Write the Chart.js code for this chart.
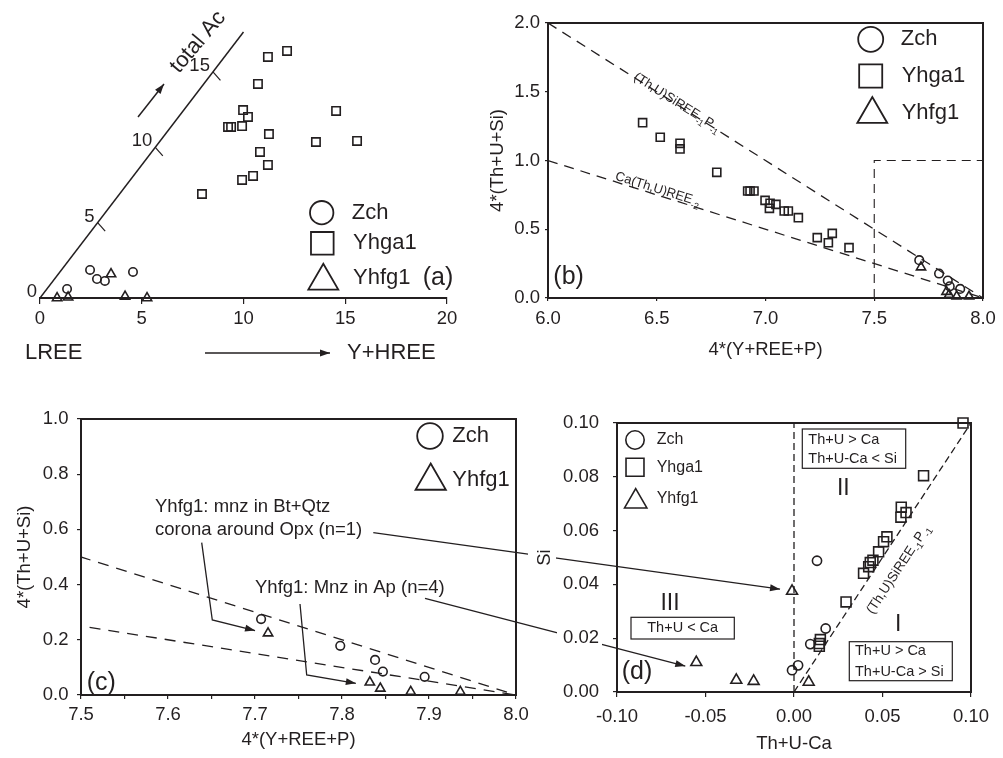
<!DOCTYPE html>
<html><head><meta charset="utf-8">
<script src="https://cdn.jsdelivr.net/npm/chart.js@4.4.1/dist/chart.umd.min.js"></script>
<style>
html,body{margin:0;padding:0;background:#fff;}
#wrap{position:relative;width:1003px;height:758px;overflow:hidden;background:#fff;}
canvas{position:absolute;left:0;top:0;}
</style></head><body>
<div id="wrap">
<canvas id="ov" width="1003" height="758"></canvas>
<canvas id="ca" width="1003" height="758"></canvas>
<canvas id="cb" width="1003" height="758"></canvas>
<canvas id="cc" width="1003" height="758"></canvas>
<canvas id="cd" width="1003" height="758"></canvas>
</div>
<script>
// ---------- DATA ----------
// panel (a): x = position on LREE -> Y+HREE axis, y = total Ac height
const acAxisLine = [[0,0],[10,17.65]];
const acTicks = [0,5,10,15];
const aTicksX = [0,5,10,15,20];
const aZch = [[2.46,1.86],[2.80,1.26],[3.19,1.13],[4.57,1.73],[1.33,0.60]];
const aYhga1 = [[12.14,16.39],[11.20,15.99],[10.71,14.20],[9.98,12.47],[10.22,12.01],[9.93,11.41],[9.24,11.35],[9.39,11.35],[14.55,12.41],[11.25,10.88],[13.56,10.35],[15.58,10.42],[10.81,9.69],[11.20,8.83],[10.47,8.10],[9.93,7.83],[7.96,6.90]];
const aYhfg1 = [[3.49,1.59],[0.84,0.0],[1.38,0.05],[4.18,0.1],[5.26,0.0]];
// panels (b) and (c): 4*(Y+REE+P) vs 4*(Th+U+Si)
const substLine1 = [[6,2],[8,0]];   // (Th,U)SiREE-1P-1
const substLine2 = [[6,1],[8,0]];   // Ca(Th,U)REE-2
const zoomBox = [[7.5,0],[7.5,1],[8,1]];
const monYhga1 = [[6.435,1.275],[6.516,1.169],[6.607,1.125],[6.607,1.084],[6.776,0.914],[6.918,0.778],[6.929,0.778],[6.947,0.778],[6.998,0.710],[7.021,0.689],[7.018,0.652],[7.048,0.681],[7.086,0.633],[7.105,0.633],[7.151,0.584],[7.238,0.439],[7.289,0.402],[7.307,0.470],[7.384,0.366]];
const monZch = [[7.707,0.275],[7.798,0.178],[7.838,0.127],[7.847,0.085],[7.895,0.066]];
const monYhfg1 = [[7.715,0.224],[7.832,0.046],[7.844,0.024],[7.879,0.012],[7.936,0.012]];
// panel (d): Th+U-Ca vs Si
const dVert = [[0,0],[0,0.1]];
const dDiag = [[0,0],[0.1,0.1]];
const dZch = [[0.0130,0.0488],[0.0179,0.0236],[0.0092,0.0178],[0.0023,0.0099],[-0.0011,0.0081]];
const dYhga1 = [[0.0955,0.100],[0.0732,0.0804],[0.0606,0.0687],[0.0633,0.0667],[0.0604,0.0650],[0.0525,0.0577],[0.0506,0.0559],[0.0478,0.0521],[0.0446,0.0490],[0.0431,0.0481],[0.0422,0.0466],[0.0393,0.0441],[0.0294,0.0335],[0.0149,0.0195],[0.0143,0.0180],[0.0143,0.0170]];
const dYhfg1 = [[-0.0011,0.0375],[-0.0552,0.0110],[-0.0326,0.0044],[-0.0228,0.0040],[0.0083,0.0037]];

// ---------- HELPERS ----------
const W=1003,H=758;
const INK='#231f20';
const FONT='"Liberation Sans", Arial, Helvetica, sans-serif';
Chart.defaults.font.family = FONT;
Chart.defaults.color = INK;

const pts = arr => arr.map(p=>({x:p[0],y:p[1]}));
function scat(arr, style, r, lw){
  return {data:pts(arr), pointStyle:style, pointRadius:r, pointBorderWidth:lw||1.6,
    pointBorderColor:INK, pointBackgroundColor:'rgba(0,0,0,0)', borderColor:INK,
    backgroundColor:'rgba(0,0,0,0)', showLine:false, clip:false};
}
function line(arr, dash, lw){
  return {data:pts(arr), showLine:true, pointRadius:0, borderColor:INK, borderWidth:lw||1.3,
    borderDash:dash||[], fill:false, tension:0};
}
function text(ctx,s,x,y,size,align,base,rot){
  ctx.save(); ctx.translate(x,y); if(rot) ctx.rotate(rot);
  ctx.font=size+'px '+FONT; ctx.fillStyle=INK; ctx.textAlign=align||'left'; ctx.textBaseline=base||'middle';
  ctx.fillText(s,0,0); ctx.restore();
}
function rich(ctx,parts,x,y,rot,size,dy){
  ctx.save(); ctx.translate(x,y); ctx.rotate(rot); ctx.fillStyle=INK; ctx.textBaseline='alphabetic'; ctx.textAlign='left';
  let tot=0;
  parts.forEach(p=>{ctx.font=(p[1]?size*0.7:size)+'px '+FONT; tot+=ctx.measureText(p[0]).width;});
  let cx=-tot/2;
  parts.forEach(p=>{const s=p[1]?size*0.7:size; ctx.font=s+'px '+FONT; ctx.fillText(p[0],cx,dy+(p[1]?size*0.3:0)); cx+=ctx.measureText(p[0]).width;});
  ctx.restore();
}
function marker(ctx,style,x,y,r,lw){
  ctx.save(); ctx.strokeStyle=INK; ctx.lineWidth=lw||1.6; ctx.beginPath();
  if(style==='circle'){ctx.arc(x,y,r,0,2*Math.PI);}
  else if(style==='rect'){const s=r/Math.SQRT2; ctx.rect(x-s,y-s,2*s,2*s);}
  else {const a=2*Math.PI/3; ctx.moveTo(x,y-r); ctx.lineTo(x+r*Math.sin(a),y-r*Math.cos(a)); ctx.lineTo(x+r*Math.sin(2*a),y-r*Math.cos(2*a)); ctx.closePath();}
  ctx.stroke(); ctx.restore();
}
function arrowLine(ctx,P,lw){
  ctx.save(); ctx.strokeStyle=INK; ctx.fillStyle=INK; ctx.lineWidth=lw||1.3;
  ctx.beginPath(); ctx.moveTo(P[0][0],P[0][1]); for(let i=1;i<P.length;i++) ctx.lineTo(P[i][0],P[i][1]); ctx.stroke();
  const [x1,y1]=P[P.length-2],[x2,y2]=P[P.length-1];
  const a=Math.atan2(y2-y1,x2-x1),L=10,w=3.5;
  ctx.beginPath(); ctx.moveTo(x2,y2);
  ctx.lineTo(x2-L*Math.cos(a)+w*Math.sin(a),y2-L*Math.sin(a)-w*Math.cos(a));
  ctx.lineTo(x2-L*Math.cos(a)-w*Math.sin(a),y2-L*Math.sin(a)+w*Math.cos(a));
  ctx.closePath(); ctx.fill(); ctx.restore();
}
function box(ctx,x,y,w,h){ctx.save(); ctx.strokeStyle=INK; ctx.lineWidth=1.2; ctx.strokeRect(x,y,w,h); ctx.restore();}
const framePlugin={id:'frame',beforeDatasetsDraw(ch){const a=ch.chartArea,ctx=ch.ctx; ctx.save(); ctx.strokeStyle=INK; ctx.lineWidth=2; ctx.strokeRect(a.left,a.top,a.right-a.left,a.bottom-a.top); ctx.restore();}};

function axis(min,max,step,title,tickLen,pad,fmt,extra){
  return Object.assign({
    type:'linear', min:min, max:max,
    ticks:{stepSize:step, autoSkip:false, maxRotation:0, minRotation:0, padding:pad, color:INK, font:{size:18.5,family:FONT}, callback:fmt},
    grid:{display:true, drawOnChartArea:false, drawTicks:true, tickLength:tickLen, color:INK, lineWidth:1.2},
    border:{display:false},
    title: title?{display:true,text:title,color:INK,font:{size:18.5,family:FONT},padding:{top:0,bottom:0}}:{display:false}
  }, extra||{});
}
function mkChart(id,area,yW,xH,datasets,xs,ys,plugins){
  xs.position='bottom'; ys.position='left';
  xs.afterFit=function(s){s.height=xH; s.paddingLeft=0; s.paddingRight=0;};
  ys.afterFit=function(s){s.width=yW; s.paddingTop=0; s.paddingBottom=0;};
  return new Chart(document.getElementById(id),{
    type:'scatter', data:{datasets:datasets},
    options:{responsive:false, maintainAspectRatio:false, animation:false, devicePixelRatio:1, events:[],
      layout:{padding:{left:area.left-yW, top:area.top, right:W-area.right, bottom:H-area.bottom-xH}},
      plugins:{legend:{display:false}, tooltip:{enabled:false}},
      scales:{x:xs, y:ys}},
    plugins:plugins
  });
}
const f1 = v=>v.toFixed(1), f2 = v=>v.toFixed(2);

// ---------- PANEL (a) ----------
const aPlugin={id:'pa',afterDraw(ch){
  const ctx=ch.ctx,X=ch.scales.x,Y=ch.scales.y,top=acAxisLine[1];
  ctx.save(); ctx.strokeStyle=INK; ctx.lineWidth=1.2;
  acTicks.forEach(t=>{
    const px=X.getPixelForValue(t*top[0]/top[1]),py=Y.getPixelForValue(t);
    if(t>0){ctx.beginPath(); ctx.moveTo(px,py); ctx.lineTo(px+7.5,py+8.5); ctx.stroke();}
    text(ctx,String(t),px-3,py-6,18.5,'right','middle');
  });
  ctx.restore();
  text(ctx,'total Ac',198,42,22,'center','middle',-50*Math.PI/180);
  arrowLine(ctx,[[138,117],[164,84]],1.5);
  text(ctx,'LREE',25,353,22,'left','middle');
  arrowLine(ctx,[[205,353],[330,353]],1.5);
  text(ctx,'Y+HREE',347,353,22,'left','middle');
  marker(ctx,'circle',321.7,212.7,11.7,1.8); text(ctx,'Zch',351.7,212.7,22);
  marker(ctx,'rect',322.3,243.3,16,1.8); text(ctx,'Yhga1',353,243.3,22);
  marker(ctx,'triangle',323.3,281,17.3,1.8); text(ctx,'Yhfg1',353,278,22);
  text(ctx,'(a)',422.7,278,25);
}};
const chA = mkChart('ca',{left:40,top:26.7,right:447,bottom:298},0,32,
  [line(acAxisLine,[],1.5), scat(aZch,'circle',4.2), scat(aYhga1,'rect',5.9), scat(aYhfg1,'triangle',5.4)],
  axis(0,20,5,null,6,4,v=>String(v),{border:{display:true,color:INK,width:2}}),
  {type:'linear',display:false,min:0,max:18},[aPlugin]);

// ---------- PANEL (b) ----------
const bPlugin={id:'pb',afterDraw(ch){
  const ctx=ch.ctx,X=ch.scales.x,Y=ch.scales.y;
  const ang=l=>Math.atan2(Y.getPixelForValue(l[1][1])-Y.getPixelForValue(l[0][1]),X.getPixelForValue(l[1][0])-X.getPixelForValue(l[0][0]));
  const onLine=(l,x)=>{const y=l[0][1]+(l[1][1]-l[0][1])*(x-l[0][0])/(l[1][0]-l[0][0]);return [X.getPixelForValue(x),Y.getPixelForValue(y)];};
  let p=onLine(substLine1,6.59); rich(ctx,[['(Th,U)SiREE'],['-1',1],['P'],['-1',1]],p[0],p[1],ang(substLine1),13,2);
  p=onLine(substLine2,6.497); rich(ctx,[['Ca(Th,U)REE'],['-2',1]],p[0],p[1],ang(substLine2),13,-2);
  marker(ctx,'circle',870.7,39.3,12.5,1.8); text(ctx,'Zch',900.7,39.3,22);
  marker(ctx,'rect',870.7,76,16.3,1.8); text(ctx,'Yhga1',901.7,76,22);
  marker(ctx,'triangle',872.3,114.3,17.3,1.8); text(ctx,'Yhfg1',901.7,113,22);
  text(ctx,'(b)',553.3,276.7,25);
}};
const chB = mkChart('cb',{left:548,top:23,right:983,bottom:298},61,63,
  [line(substLine1,[10,7]), line(substLine2,[10,7]), line(zoomBox,[9,6],1.1),
   scat(monZch,'circle',4.3), scat(monYhga1,'rect',5.7), scat(monYhfg1,'triangle',5.3)],
  axis(6,8,0.5,'4*(Y+REE+P)',3,7,f1), axis(0,2,0.5,'4*(Th+U+Si)',3,5,f1), [framePlugin,bPlugin]);

// ---------- PANEL (c) ----------
const cPlugin={id:'pc',afterDraw(ch){
  const ctx=ch.ctx;
  text(ctx,'Yhfg1: mnz in Bt+Qtz',155,506.7,18.5);
  text(ctx,'corona around Opx (n=1)',155,530,18.5);
  text(ctx,'Yhfg1: Mnz in Ap (n=4)',255,588.3,18.5);
  marker(ctx,'circle',430,436,12.8,1.8); text(ctx,'Zch',452.3,436,22);
  marker(ctx,'triangle',430.7,481,17.5,1.8); text(ctx,'Yhfg1',452.3,480,22);
  text(ctx,'(c)',86.7,683,25);
}};
const chC = mkChart('cc',{left:81,top:419,right:516,bottom:695},67,56,
  [line(substLine1,[11,8]), line(substLine2,[11,8]), scat(monZch,'circle',4.3), scat(monYhfg1,'triangle',5.4)],
  axis(7.5,8,0.05,'4*(Y+REE+P)',4,5,v=>Math.abs(v*10-Math.round(v*10))<1e-6?v.toFixed(1):''),
  axis(0,1,0.2,'4*(Th+U+Si)',4,8.5,f1), [framePlugin,cPlugin]);

// ---------- PANEL (d) ----------
const dPlugin={id:'pd',
 beforeDraw(ch){const ctx=ch.ctx; ctx.save(); ctx.fillStyle='#fff'; ctx.fillRect(528,544,28,26); ctx.fillRect(557,627,45,21); ctx.restore();},
 afterDraw(ch){
  const ctx=ch.ctx,X=ch.scales.x,Y=ch.scales.y;
  box(ctx,802.3,429,103.4,39.3); text(ctx,'Th+U > Ca',808.3,439.6,14.5); text(ctx,'Th+U-Ca < Si',808.3,459.3,14.5);
  text(ctx,'II',843.3,488.3,23,'center');
  text(ctx,'III',670,603.3,23,'center');
  box(ctx,631,617.3,103.3,21.7); text(ctx,'Th+U < Ca',682.7,628.3,14.5,'center');
  text(ctx,'I',898.3,625,23,'center');
  box(ctx,849.3,641.7,103,39); text(ctx,'Th+U > Ca',855,651,14.5); text(ctx,'Th+U-Ca > Si',855,671.5,14.5);
  const a=Math.atan2(Y.getPixelForValue(dDiag[1][1])-Y.getPixelForValue(dDiag[0][1]),X.getPixelForValue(dDiag[1][0])-X.getPixelForValue(dDiag[0][0]));
  rich(ctx,[['(Th,U)SiREE'],['-1',1],['P'],['-1',1]],X.getPixelForValue(0.0496),Y.getPixelForValue(0.0496),a,13.5,23.5);
  marker(ctx,'circle',635,440,9.2,1.6); text(ctx,'Zch',656.7,440,16);
  marker(ctx,'rect',635,467.3,12.7,1.6); text(ctx,'Yhga1',656.7,467.3,16);
  marker(ctx,'triangle',635.7,501.5,12.9,1.6); text(ctx,'Yhfg1',656.7,499,16);
  text(ctx,'(d)',621.7,671.7,25);
 }};
const chD = mkChart('cd',{left:617,top:423,right:971,bottom:692},83,63,
  [line(dVert,[7,4]), line(dDiag,[7,4]), scat(dZch,'circle',4.6), scat(dYhga1,'rect',7), scat(dYhfg1,'triangle',6.3)],
  axis(-0.1,0.1,0.05,'Th+U-Ca',5,9,f2), axis(0,0.1,0.02,'Si',4,14,f2), [framePlugin,dPlugin]);

// ---------- CROSS-PANEL ANNOTATIONS ----------
(function(){
  const ctx=document.getElementById('ov').getContext('2d');
  const px=(ch,p)=>[ch.scales.x.getPixelForValue(p[0]),ch.scales.y.getPixelForValue(p[1])];
  const off=(p,dx,dy)=>[p[0]+dx,p[1]+dy];
  arrowLine(ctx,[[201.7,542.7],[212.3,620],off(px(chC,monYhfg1[0]),-13,-2.6)]);
  arrowLine(ctx,[[300,604],[306.7,675],off(px(chC,monYhfg1[1]),-14,1)]);
  arrowLine(ctx,[[373.3,532.7],off(px(chD,dYhfg1[0]),-12,-2)]);
  arrowLine(ctx,[[425,598.3],off(px(chD,dYhfg1[1]),-11,3.7)]);
})();
</script>
</body></html>
